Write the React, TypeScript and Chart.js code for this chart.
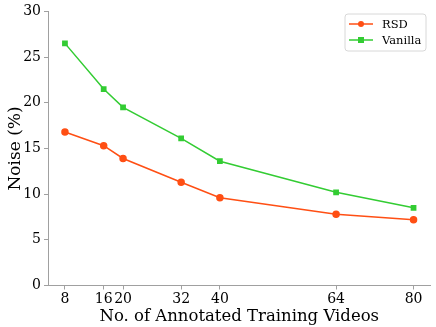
import React, { useEffect, useRef } from "react";
import { Chart, registerables } from "chart.js";
Chart.register(...registerables);

const videos = [8, 16, 20, 32, 40, 64, 80];
const rsd = [16.8, 15.3, 13.9, 11.3, 9.6, 7.8, 7.2];
const vanilla = [26.5, 21.5, 19.5, 16.1, 13.6, 10.2, 8.5];
const yTicks = [0, 5, 10, 15, 20, 25, 30];

const RED = "#ff4f14";
const GREEN = "#33cc33";
const FONT = "'DejaVu Serif', serif";
const AXIS = "#a0a0a0";

const legendPlugin = {
  id: "boxLegend",
  afterDraw(chart: any) {
    const ctx = chart.ctx;
    const x = 345, y = 14, w = 81, h = 37;
    ctx.save();
    ctx.beginPath();
    const r = 3;
    ctx.moveTo(x + r, y);
    ctx.arcTo(x + w, y, x + w, y + h, r);
    ctx.arcTo(x + w, y + h, x, y + h, r);
    ctx.arcTo(x, y + h, x, y, r);
    ctx.arcTo(x, y, x + w, y, r);
    ctx.closePath();
    ctx.fillStyle = "rgba(255,255,255,0.85)";
    ctx.fill();
    ctx.strokeStyle = "#d8d8d8";
    ctx.lineWidth = 1;
    ctx.stroke();
    const items = chart.data.datasets;
    items.forEach((ds: any, i: number) => {
      const cy = y + 10 + i * 16;
      ctx.strokeStyle = ds.borderColor;
      ctx.lineWidth = 1.5;
      ctx.beginPath();
      ctx.moveTo(349, cy);
      ctx.lineTo(373, cy);
      ctx.stroke();
      ctx.fillStyle = ds.borderColor;
      if (ds.pointStyle === "rect") {
        ctx.fillRect(358, cy - 3, 6, 6);
      } else {
        ctx.beginPath();
        ctx.arc(361, cy, 3, 0, Math.PI * 2);
        ctx.fill();
      }
      ctx.fillStyle = "#000";
      ctx.font = "11.5px " + FONT;
      ctx.textBaseline = "middle";
      ctx.textAlign = "left";
      ctx.fillText(ds.label, 382, cy + 1);
    });
    ctx.restore();
  },
};

export default function App() {
  const ref = useRef<HTMLCanvasElement>(null);
  useEffect(() => {
    const chart = new Chart(ref.current!, {
      type: "line",
      data: {
        datasets: [
          {
            label: "RSD",
            data: videos.map((v, i) => ({ x: v, y: rsd[i] })),
            borderColor: RED,
            backgroundColor: RED,
            pointStyle: "circle",
            pointRadius: 3,
            borderWidth: 1.5,
          },
          {
            label: "Vanilla",
            data: videos.map((v, i) => ({ x: v, y: vanilla[i] })),
            borderColor: GREEN,
            backgroundColor: GREEN,
            pointStyle: "rect",
            pointRadius: 3,
            borderWidth: 1.5,
          },
        ],
      },
      options: {
        animation: false,
        responsive: false,
        layout: { padding: { top: 8, right: 4, left: 0, bottom: 0 } },
        plugins: { legend: { display: false }, tooltip: { enabled: false } },
        scales: {
          x: {
            type: "linear",
            min: 4.5,
            max: 83.5,
            afterBuildTicks: (s: any) => {
              s.ticks = videos.map((v) => ({ value: v }));
            },
            afterFit: (s: any) => {
              s.height = 41.5;
            },
            ticks: {
              autoSkip: false,
              maxRotation: 0,
              color: "#000",
              padding: 1,
              font: { family: FONT, size: 14 },
            },
            grid: { display: true, drawOnChartArea: false, drawTicks: true, tickLength: 4, color: AXIS },
            border: { display: true, color: AXIS },
            title: {
              display: true,
              text: "No. of Annotated Training Videos",
              color: "#000",
              font: { family: FONT, size: 16.5 },
              padding: { top: 0, bottom: 0 },
            },
          },
          y: {
            min: 0,
            max: 30,
            afterBuildTicks: (s: any) => {
              s.ticks = yTicks.map((v) => ({ value: v }));
            },
            afterFit: (s: any) => {
              s.width = 48;
            },
            ticks: {
              color: "#000",
              padding: 3,
              font: { family: FONT, size: 14 },
            },
            grid: { display: true, drawOnChartArea: false, drawTicks: true, tickLength: 4, color: AXIS },
            border: { display: true, color: AXIS },
            title: {
              display: true,
              text: "Noise (%)",
              color: "#000",
              font: { family: FONT, size: 17 },
              padding: { top: 5, bottom: 0 },
            },
          },
        },
      },
      plugins: [legendPlugin],
    } as any);
    return () => chart.destroy();
  }, []);
  return (
    <div style={{ position: "fixed", left: 0, top: 0, width: 436, height: 327, background: "#fff" }}>
      <canvas ref={ref} width={436} height={327} />
    </div>
  );
}
